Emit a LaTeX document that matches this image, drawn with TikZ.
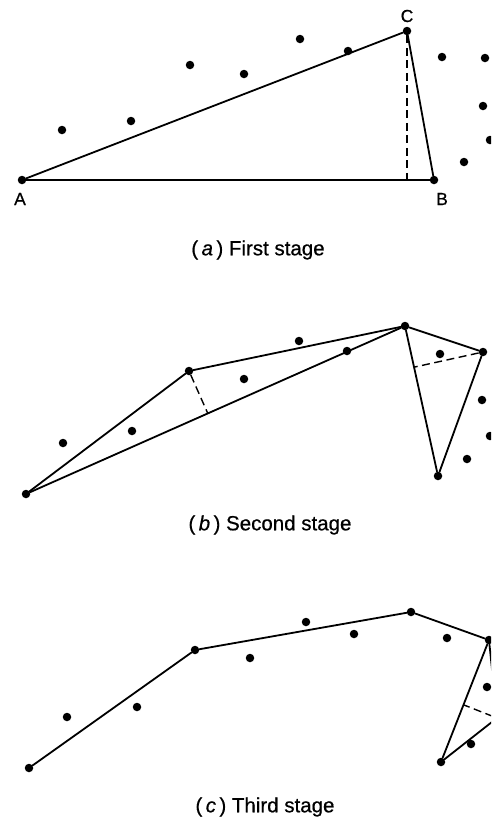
\documentclass[tikz,border=0pt]{standalone}
\usepackage{fontspec}
\setsansfont{Liberation Sans}
\newfontfamily\labelfont{Liberation Sans}[FakeBold=0.6]
\usetikzlibrary{calc}

\begin{document}
\begin{tikzpicture}[
        x=1pt,
        y=-1pt,
        font=\labelfont\fontsize{17.5}{20}\selectfont,
        edge/.style={line width=1.8pt, line cap=round},
        perp/.style={line width=1.4pt, dash pattern=on 8pt off 4.5pt},
        vertex/.style={circle, fill=black, inner sep=0pt, minimum size=8.5pt},
        dot/.style={circle, fill=black, inner sep=0pt, minimum size=8.5pt},
        caption/.style={font=\labelfont\fontsize{20.5}{24}\selectfont}
    ]
        \useasboundingbox (0,0) rectangle (491,820);
        \clip (0,0) rectangle (491,820);

        % First stage: chord AB and farthest point C.
        \node[vertex] (A) at (22,180) {};
        \node[vertex] (B) at (434,180) {};
        \node[vertex] (C) at (407,31) {};
        \draw[edge] (A) -- (B);
        \draw[edge] (B) -- (C);
        \draw[edge] (C) -- (A);
        \coordinate (Cfoot) at ($(A)!(C)!(B)$);
        \draw[perp] (C) -- (Cfoot);
        \node (labA) at (20,199) {A};
        \node (labB) at (442,199) {B};
        \node (labC) at (407,16) {C};
        \foreach \x/\y [count=\i] in {62/130,131/121,190/65,244/74,300/39,348/51,442/57,485/58,483/106,490/140,464/162} {
            \node[dot] (a\i) at (\x,\y) {};
        }
        \node[caption] (capa) at (258,250) {(\,\textit{a}\,)\ First stage};

        % Second stage: two new triangles.
        \node[vertex] (b1) at (26,494) {};
        \node[vertex] (b2) at (189,371) {};
        \node[vertex] (b3) at (405,326) {};
        \node[vertex] (b4) at (483,352) {};
        \node[vertex] (b5) at (438,476) {};
        \draw[edge] (b1) -- (b2);
        \draw[edge] (b2) -- (b3);
        \draw[edge] (b1) -- (b3);
        \draw[edge] (b3) -- (b4);
        \draw[edge] (b3) -- (b5);
        \draw[edge] (b4) -- (b5);
        \coordinate (b2foot) at ($(b1)!(b2)!(b3)$);
        \coordinate (b4foot) at ($(b3)!(b4)!(b5)$);
        \draw[perp] (b2) -- (b2foot);
        \draw[perp] (b4) -- (b4foot);
        \foreach \x/\y [count=\i] in {63/443,132/431,244/379,299/341,347/351,440/354,482/400,490/436,467/459} {
            \node[dot] (bd\i) at (\x,\y) {};
        }
        \node[caption] (capb) at (270,525) {(\,\textit{b}\,)\ Second stage};

        % Third stage: hull so far, last triangle cut at the edge.
        \node[vertex] (c1) at (29,768) {};
        \node[vertex] (c2) at (195,650) {};
        \node[vertex] (c3) at (411,612) {};
        \node[vertex] (c4) at (489,640) {};
        \node[vertex] (c5) at (441,762) {};
        \node[vertex] (c6) at (497,718) {};
        \draw[edge] (c1) -- (c2);
        \draw[edge] (c2) -- (c3);
        \draw[edge] (c3) -- (c4);
        \draw[edge] (c4) -- (c5);
        \draw[edge] (c4) -- (c6);
        \draw[edge] (c6) -- (c5);
        \coordinate (c6foot) at ($(c4)!(c6)!(c5)$);
        \draw[perp] (c6) -- (c6foot);
        \foreach \x/\y [count=\i] in {67/717,137/707,250/658,306/622,354/634,447/638,487/687,471/744} {
            \node[dot] (cd\i) at (\x,\y) {};
        }
        \node[caption] (capc) at (265,807) {(\,\textit{c}\,)\ Third stage};
\end{tikzpicture}
\end{document}
